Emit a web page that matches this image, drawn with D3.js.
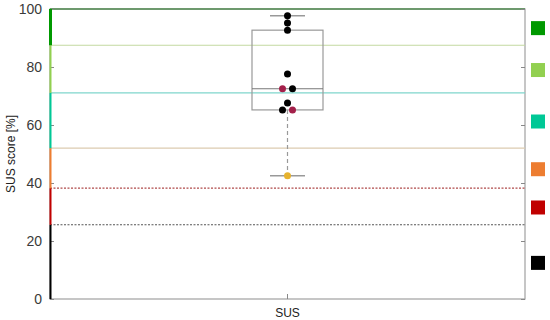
<!DOCTYPE html>
<html>
<head>
<meta charset="utf-8">
<script src="https://cdn.jsdelivr.net/npm/d3@7"></script>
<style>
  body { margin: 0; background: #fff; }
  text { font-family: Arial, "Liberation Sans", sans-serif; }
</style>
</head>
<body>
<div id="chart"></div>
<script>
// data
var categories = ['SUS'];
var yTicks = [0, 20, 40, 60, 80, 100];

// grade thresholds (band edges), from bottom to top
var bandEdges = [0, 25.6, 38.2, 52, 71.1, 87.5, 100];
var bandColors = ['#000000', '#c00000', '#ed7d31', '#00c896', '#92d050', '#009900'];
var lineColors = ['#555555', '#b04a4a', '#dccbb0', '#7fd6cc', '#c3d9a0', '#4f8a4f'];
var lineDashed = [true, true, false, false, false, false];

// box plot stats
var boxStats = { min: 42.5, q1: 65.2, median: 72.5, q3: 92.7, max: 97.7 };

// individual scores (offset = left/right slot when two share a value)
var scores = [97.7, 95.2, 92.7, 77.6, 72.5, 72.5, 67.6, 65.2, 65.2, 42.5];
var scoreOffset = [0, 0, 0, 0, -1, 1, 0, -1, 1, 0];
var scoreColor = ['#000', '#000', '#000', '#000', '#a3204a', '#000', '#000', '#000', '#a3204a', '#e6b22e'];

var width = 550, height = 320;
var margin = { left: 50, right: 25, top: 9, bottom: 21 };

var svg = d3.select('#chart')
    .append('svg')
        .attr('width', width)
        .attr('height', height)
;

var x = d3.scaleBand()
    .domain(categories)
    .range([margin.left, width - margin.right]);

var y = d3.scaleLinear()
    .domain([0, 100])
    .range([height - margin.bottom, margin.top]);

var x0 = margin.left, x1 = width - margin.right;

// plot frame
svg.append('rect')
    .attr('x', x0)
    .attr('y', y(100))
    .attr('width', x1 - x0)
    .attr('height', y(0) - y(100))
    .attr('fill', 'none')
    .attr('stroke', '#a0a0a0')
    .attr('stroke-width', 1.2);

// threshold lines
svg.append('g')
    .selectAll('line')
    .data(bandEdges.slice(1))
    .enter().append('line')
        .attr('x1', x0)
        .attr('x2', x1)
        .attr('y1', function(d) { return y(d); })
        .attr('y2', function(d) { return y(d); })
        .attr('stroke', function(d, i) { return lineColors[i]; })
        .attr('stroke-width', function(d, i) { return i == 5 ? 1.5 : 1.2; })
        .attr('stroke-dasharray', function(d, i) { return lineDashed[i] ? '2,1.5' : null; })
;

// y ticks (left + right, inward)
var yAxisL = d3.axisLeft(y).tickValues(yTicks).tickSize(-4).tickPadding(8);
svg.append('g')
    .attr('transform', 'translate(' + x0 + ',0)')
    .call(yAxisL)
    .call(function(g) {
        g.select('.domain').remove();
        g.selectAll('line').attr('stroke', '#888');
        g.selectAll('text').attr('font-size', 14).attr('fill', '#3a3a3a');
    });

var yAxisR = d3.axisRight(y).tickValues(yTicks).tickSize(-4).tickFormat('');
svg.append('g')
    .attr('transform', 'translate(' + x1 + ',0)')
    .call(yAxisR)
    .call(function(g) {
        g.select('.domain').remove();
        g.selectAll('line').attr('stroke', '#888');
    });

// x axis
var xAxis = d3.axisBottom(x).tickSize(-5).tickPadding(9);
svg.append('g')
    .attr('transform', 'translate(0,' + y(0) + ')')
    .call(xAxis)
    .call(function(g) {
        g.select('.domain').remove();
        g.selectAll('line').attr('stroke', '#888');
        g.selectAll('text').attr('font-size', 12).attr('fill', '#222');
    });

// coloured band segments on the left axis
svg.append('g')
    .selectAll('line')
    .data(bandColors)
    .enter().append('line')
        .attr('x1', x0 + 0.5)
        .attr('x2', x0 + 0.5)
        .attr('y1', function(d, i) { return y(bandEdges[i]); })
        .attr('y2', function(d, i) { return y(bandEdges[i + 1]); })
        .attr('stroke', function(d) { return d; })
        .attr('stroke-width', function(d, i) { return i == 5 ? 3 : 2; })
;

// y label
svg.append('text')
    .attr('transform', 'translate(15,' + ((y(0) + y(100)) / 2) + ') rotate(-90)')
    .attr('text-anchor', 'middle')
    .attr('font-size', 12)
    .attr('fill', '#222')
    .text('SUS score [%]');

// box plot
var cx = x('SUS') + x.bandwidth() / 2;
var boxW = 71, capW = 35;
var box = svg.append('g');

box.append('line')
    .attr('x1', cx).attr('x2', cx)
    .attr('y1', y(boxStats.q1)).attr('y2', y(boxStats.min))
    .attr('stroke', '#999').attr('stroke-width', 1.2)
    .attr('stroke-dasharray', '4,3');
box.append('line')
    .attr('x1', cx).attr('x2', cx)
    .attr('y1', y(boxStats.q3)).attr('y2', y(boxStats.max))
    .attr('stroke', '#999').attr('stroke-width', 1.2)
    .attr('stroke-dasharray', '4,3');

box.selectAll('.cap')
    .data([boxStats.min, boxStats.max])
    .enter().append('line')
        .attr('class', 'cap')
        .attr('x1', cx - capW / 2).attr('x2', cx + capW / 2)
        .attr('y1', function(d) { return y(d); })
        .attr('y2', function(d) { return y(d); })
        .attr('stroke', '#999').attr('stroke-width', 1.5);

box.append('rect')
    .attr('x', cx - boxW / 2)
    .attr('y', y(boxStats.q3))
    .attr('width', boxW)
    .attr('height', y(boxStats.q1) - y(boxStats.q3))
    .attr('fill', 'none')
    .attr('stroke', '#999').attr('stroke-width', 1.2);

box.append('line')
    .attr('x1', cx - boxW / 2).attr('x2', cx + boxW / 2)
    .attr('y1', y(boxStats.median)).attr('y2', y(boxStats.median))
    .attr('stroke', '#777').attr('stroke-width', 1.2);

// points
svg.append('g')
    .selectAll('circle')
    .data(scores)
    .enter().append('circle')
        .attr('cx', function(d, i) { return cx + scoreOffset[i] * 5; })
        .attr('cy', function(d) { return y(d); })
        .attr('r', 3.5)
        .attr('fill', function(d, i) { return scoreColor[i]; })
;

// legend squares near band midpoints
svg.append('g')
    .selectAll('rect')
    .data(bandColors)
    .enter().append('rect')
        .attr('x', x1 + 6)
        .attr('y', function(d, i) { return y((bandEdges[i] + bandEdges[i + 1]) / 2) - 6; })
        .attr('width', 14)
        .attr('height', 14)
        .attr('fill', function(d) { return d; })
;
</script>
</body>
</html>
